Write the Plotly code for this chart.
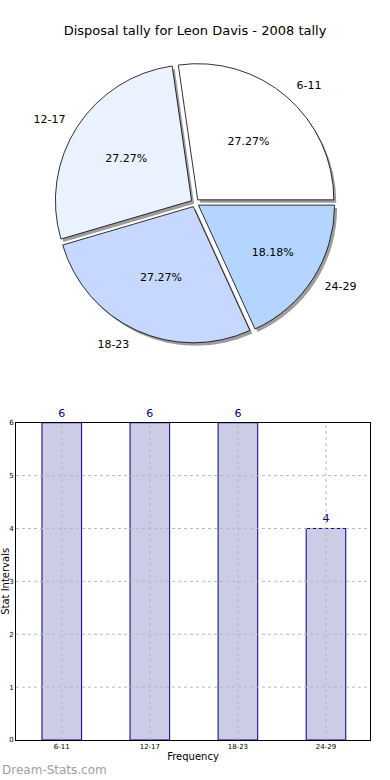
import plotly.graph_objects as go

categories = ["6-11", "12-17", "18-23", "24-29"]
values = [6, 6, 6, 4]
pie_colors = ["#ffffff", "#eaf2ff", "#c6d8ff", "#b3d5ff"]
y_ticks = [0, 1, 2, 3, 4, 5, 6]

W, H = 390, 780
ml, mr, mt, mb = 16, 20, 0, 40
pw, ph = W - ml - mr, H - mt - mb

def px_x(x):
    return (x - ml) / pw

def px_y(y):
    return (H - mb - y) / ph

total = sum(values)
rot = 90 - 360 * values[0] / total

pie_dom_x = [px_x(54), px_x(336)]
pie_dom_y = [px_y(341), px_y(59)]
lab_dom_x = [px_x(44), px_x(346)]
lab_dom_y = [px_y(351), px_y(49)]
pull = [0.03] * len(values)
sx, sy = 2.5 / pw, 3 / ph

fig = go.Figure()
# shadow
fig.add_trace(go.Pie(
    labels=categories, values=values, sort=False, direction="counterclockwise",
    rotation=rot, pull=pull, textinfo="none", hoverinfo="skip",
    marker=dict(colors=["#8c8c8c"] * 4, line=dict(width=0)),
    domain=dict(x=[pie_dom_x[0] + sx, pie_dom_x[1] + sx], y=[pie_dom_y[0] - sy, pie_dom_y[1] - sy]),
    showlegend=False, opacity=0.85,
))
# main pie with percentages inside
fig.add_trace(go.Pie(
    labels=categories, values=values, sort=False, direction="counterclockwise",
    rotation=rot, pull=pull, textinfo="percent", texttemplate="%{percent:.2%}",
    textposition="inside", insidetextorientation="horizontal",
    textfont=dict(family="DejaVu Sans", size=11, color="black"),
    marker=dict(colors=pie_colors, line=dict(color="black", width=0.8)),
    domain=dict(x=pie_dom_x, y=pie_dom_y), showlegend=False,
))
# labels outside
fig.add_trace(go.Pie(
    labels=categories, values=values, sort=False, direction="counterclockwise",
    rotation=rot, pull=pull, textinfo="label", textposition="outside", hoverinfo="skip",
    textfont=dict(family="DejaVu Sans", size=11, color="black"),
    marker=dict(colors=["rgba(0,0,0,0)"] * 4, line=dict(width=0)),
    domain=dict(x=lab_dom_x, y=lab_dom_y), showlegend=False, automargin=False,
))

fig.add_trace(go.Bar(
    x=categories, y=values, width=0.45,
    marker=dict(color="#ccccE6", line=dict(color="#000080", width=1)),
    text=[str(v) for v in values], textposition="outside", cliponaxis=False,
    textfont=dict(family="DejaVu Sans", size=11, color="#000080"),
    showlegend=False, xaxis="x", yaxis="y",
))

grid_style = dict(color="#b8b8b8", width=1, dash="dot")
shapes = []
for c in categories:
    shapes.append(dict(type="line", xref="x", yref="y domain", x0=c, x1=c, y0=0, y1=1,
                       line=grid_style, layer="above"))
for t in y_ticks[1:-1]:
    shapes.append(dict(type="line", xref="x domain", yref="y", x0=0, x1=1, y0=t, y1=t,
                       line=grid_style, layer="above"))

fig.update_layout(
    width=W, height=H,
    margin=dict(l=ml, r=mr, t=mt, b=mb),
    paper_bgcolor="white", plot_bgcolor="white",
    title=dict(text="Disposal tally for Leon Davis - 2008 tally", x=0.5, xanchor="center",
               y=1 - 30 / H, yanchor="middle", yref="container",
               font=dict(family="DejaVu Sans", size=13, color="black")),
    xaxis=dict(domain=[0, 1], range=[-0.52, 3.5], showline=True, mirror=True,
               linecolor="black", linewidth=1, showgrid=False,
               ticks="", tickfont=dict(family="DejaVu Sans", size=7, color="black"),
               title=dict(text="Frequency", font=dict(family="DejaVu Sans", size=10, color="black"), standoff=2),
               fixedrange=True),
    yaxis=dict(domain=[0, px_y(421)], range=[0, 6], tickvals=y_ticks, showline=True, mirror=True,
               linecolor="black", linewidth=1, showgrid=False, zeroline=False,
               ticks="", tickfont=dict(family="DejaVu Sans", size=7, color="black"),
               title=dict(text="Stat Intervals", font=dict(family="DejaVu Sans", size=10, color="black"), standoff=0),
               fixedrange=True),
    shapes=shapes,
    annotations=[dict(text="Dream-Stats.com", xref="paper", yref="paper",
                      x=px_x(0), y=px_y(770), xanchor="left", yanchor="middle", showarrow=False,
                      font=dict(family="DejaVu Sans", size=12, color="#a0a0a0"))],
)

fig.write_html("out.html", config={"displayModeBar": False},
               post_script="document.body.style.margin='0px';")
